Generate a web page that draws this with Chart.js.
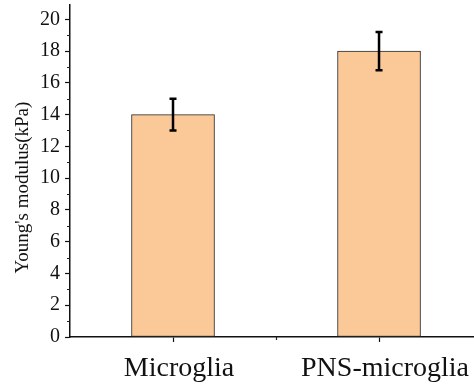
<!DOCTYPE html>
<html>
<head>
<meta charset="utf-8">
<script src="https://cdn.jsdelivr.net/npm/chart.js@4"></script>
<style>
  html, body { margin: 0; padding: 0; background: #fff; }
  #wrap { width: 474px; height: 387px; }
</style>
</head>
<body>
<div id="wrap"><canvas id="chart" width="474" height="387"></canvas></div>
<script>
// data
const categories = ['Microglia', 'PNS-microglia'];
const modulus = [14, 18];
const modulusErr = [1, 1.2];
const yTicks = [0, 2, 4, 6, 8, 10, 12, 14, 16, 18, 20];
const yMax = 20.9;
const xMax = 2.461;   // right edge of x axis (plot is cut on the right)

const SERIF = '"Liberation Serif", "Times New Roman", serif';

// error bars + minor ticks drawn through the scales
const extras = {
    id: 'extras',
    afterDatasetsDraw(chart) {
        const ctx = chart.ctx;
        const xs = chart.scales.x, ys = chart.scales.y;
        ctx.save();
        ctx.strokeStyle = '#000';
        ctx.lineWidth = 2.5;
        modulus.forEach((v, i) => {
            const x = xs.getPixelForValue(i + 1);
            const top = ys.getPixelForValue(v + modulusErr[i]);
            const bot = ys.getPixelForValue(v - modulusErr[i]);
            ctx.beginPath();
            ctx.moveTo(x, top); ctx.lineTo(x, bot);
            ctx.moveTo(x - 3.5, top); ctx.lineTo(x + 3.5, top);
            ctx.moveTo(x - 3.5, bot); ctx.lineTo(x + 3.5, bot);
            ctx.stroke();
        });
        ctx.restore();
    },
    afterDraw(chart) {
        const ctx = chart.ctx;
        const xs = chart.scales.x, ys = chart.scales.y;
        const area = chart.chartArea;
        ctx.save();
        ctx.strokeStyle = '#222';
        ctx.lineWidth = 1.2;
        ctx.beginPath();
        for (let v = 1; v < yMax; v += 2) {
            const y = Math.round(ys.getPixelForValue(v)) + 0.5;
            ctx.moveTo(area.left - 3, y); ctx.lineTo(area.left, y);
        }
        const xm = Math.round(xs.getPixelForValue(1.5)) + 0.5;
        ctx.moveTo(xm, area.bottom); ctx.lineTo(xm, area.bottom + 3);
        ctx.stroke();
        ctx.restore();
    }
};

new Chart(document.getElementById('chart'), {
    type: 'bar',
    data: {
        datasets: [{
            data: modulus.map((v, i) => ({ x: i + 1, y: v })),
            backgroundColor: 'rgb(251,200,151)',
            borderColor: '#2a2a2a',
            borderWidth: 1,
            borderSkipped: false,
            barThickness: 83
        }]
    },
    options: {
        responsive: false,
        animation: false,
        layout: { padding: { top: 5, right: 0, left: 0, bottom: 0 } },
        plugins: { legend: { display: false }, tooltip: { enabled: false } },
        scales: {
            x: {
                type: 'linear',
                min: 0.5, max: xMax,
                offset: false,
                z: 1,
                afterBuildTicks: s => { s.ticks = categories.map((c, i) => ({ value: i + 1 })); },
                afterFit: s => { s.height = 50; s.paddingLeft = 0; s.paddingRight = 0; },
                border: { color: '#111', width: 1.5 },
                grid: { offset: false, drawOnChartArea: false, tickLength: 5, color: '#111', tickWidth: 1.2 },
                ticks: {
                    color: '#111',
                    padding: 10,
                    labelOffset: 6,
                    maxRotation: 0,
                    autoSkip: false,
                    font: { family: SERIF, size: 28 },
                    callback: v => categories[Math.round(v) - 1]
                }
            },
            y: {
                min: 0, max: yMax,
                z: 1,
                afterBuildTicks: s => { s.ticks = yTicks.map(v => ({ value: v })); },
                afterFit: s => { s.width = 70; s.paddingTop = 0; s.paddingBottom = 0; },
                border: { color: '#111', width: 1.5 },
                grid: { drawOnChartArea: false, tickLength: 5, color: '#111', tickWidth: 1.2 },
                ticks: {
                    color: '#111',
                    padding: 5,
                    font: { family: SERIF, size: 20 }
                },
                title: {
                    display: true,
                    text: "Young's modulus(kPa)       ",
                    color: '#111',
                    padding: { top: 12, bottom: 0 },
                    font: { family: SERIF, size: 19 }
                }
            }
        }
    },
    plugins: [extras]
});
</script>
</body>
</html>
